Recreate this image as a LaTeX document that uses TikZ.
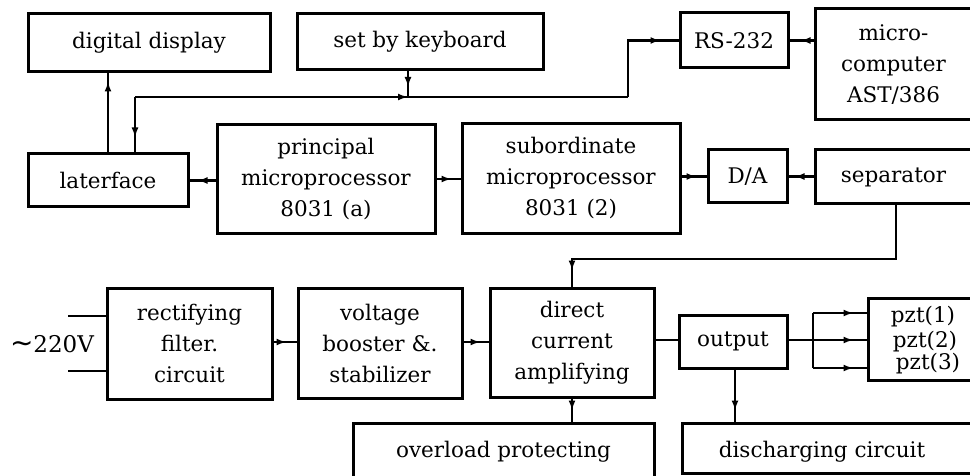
\documentclass[tikz,border=0pt]{standalone}
\usepackage{fontspec}
\setmainfont{DejaVu Serif}
\newfontfamily\symfont{DejaVu Sans}
\usetikzlibrary{arrows.meta,decorations.markings}

\tikzset{
  blk/.style={draw, line width=3pt, inner sep=0pt, align=center,
    font=\fontsize{21.5}{31}\selectfont},
  conn/.style={line width=2.6pt},
  % arrow tip placed #1 before the end of a connector
  tipback/.style={postaction={decorate, decoration={markings,
    mark=at position -#1 with {\arrow{Latex[length=10pt,width=7pt]}}}}},
  lbl/.style={inner sep=0pt, font=\fontsize{21.5}{24}\selectfont},
}

\begin{document}
\begin{tikzpicture}[x=1pt, y=-1pt]
\useasboundingbox (0,0) rectangle (970,476);
\clip (0,0) rectangle (970,476);

% top row
\node[blk, minimum width=242, minimum height=58] (disp) at (149,43) {digital display};
\node[blk, minimum width=246, minimum height=56] (kbd) at (420,42) {set by keyboard};
\node[blk, minimum width=108, minimum height=55] (rs) at (734,40.5) {RS-232};
\node[blk, minimum width=157, minimum height=111] (mc) at (893.5,64.5) {micro-\\computer\\AST/386};

% processor row
\node[blk, minimum width=160, minimum height=53] (lat) at (108,180.5) {laterface};
\node[blk, minimum width=218, minimum height=108] (pri) at (326,179) {principal\\microprocessor\\8031 (a)};
\node[blk, minimum width=218, minimum height=109] (sub) at (571,178.5) {subordinate\\microprocessor\\8031 (2)};
\node[blk, minimum width=79, minimum height=53] (da) at (747.5,176.5) {D/A};
\node[blk, minimum width=157, minimum height=54] (sep) at (893.5,177) {separator};

% power row
\node[lbl, font=\fontsize{23}{26}\selectfont] (ac) at (52,344) {{\symfont\fontsize{28}{26}\selectfont∼}220V};
\node[blk, minimum width=165, minimum height=111] (rect) at (189.5,343.5) {rectifying\\filter.\\circuit};
\node[blk, minimum width=164, minimum height=110] (volt) at (380,343) {voltage\\booster \&.\\stabilizer};
\node[blk, minimum width=164, minimum height=109] (dca) at (572,342.5) {direct\\current\\amplifying};
\node[blk, minimum width=108, minimum height=53] (out) at (733,341.5) {output};
\node[blk, minimum width=107, minimum height=82] (pzt) at (921.5,339) {};
\node[lbl] (pzt1) at (923,317) {pzt(1)};
\node[lbl] (pzt2) at (925,342) {pzt(2)};
\node[lbl] (pzt3) at (928,364) {pzt(3)};

% bottom row
\node[blk, minimum width=301, minimum height=57] (ovl) at (503.5,451.5) {overload protecting};
\node[blk, minimum width=290, minimum height=50] (dis) at (827,448) {};
\node[lbl] (distxt) at (822,452) {discharging circuit};

% bus between keyboard, interface and RS-232
\coordinate (busL) at (135,97);
\coordinate (busK) at (408,97);
\coordinate (busR) at (628,97);
\coordinate (busM) at (500,97);

\draw[conn, tipback=8pt] (lat.north) -- (lat.north |- disp.south);
\draw[conn, tipback=10pt] (kbd.south -| busK) -- (busK);
\draw[conn] (busK) -- (busL);
\draw[conn, tipback=15pt] (busL) -- (busL |- lat.north);
\draw[conn, tipback=0pt] (busK) -- (busM);
\draw[conn] (busM) -- (busR);
\draw[conn, tipback=18pt] (busR) -- (busR |- rs.west) -- (rs.west);
\draw[conn, tipback=11pt] (mc.west |- rs.east) -- (rs.east);

% processor row links
\draw[conn, tipback=8pt] (pri.west |- lat.east) -- (lat.east);
\draw[conn, tipback=9pt] (pri.east) -- (sub.west |- pri.east);
\draw[conn, tipback=10pt] (sub.east |- da.west) -- (da.west);
\draw[conn, tipback=6pt] (sep.west |- da.east) -- (da.east);

% separator to amplifier
\coordinate (sepd) at (896,259);
\draw[conn, tipback=16pt] (sep.south -| sepd) -- (sepd) -| (dca.north);

% mains input
\coordinate (in1) at (68,316);
\coordinate (in2) at (68,371);
\draw[conn] (in1) -- (in1 -| rect.west);
\draw[conn] (in2) -- (in2 -| rect.west);

% power chain
\draw[conn, tipback=10pt] (rect.east |- 0,342) -- (volt.west |- 0,342);
\draw[conn, tipback=8pt] (volt.east |- 0,342) -- (dca.west |- 0,342);
\draw[conn] (dca.east |- 0,340) -- (out.west |- 0,340);

% output fan-out to the piezo stacks
\coordinate (fan) at (813,340);
\draw[conn] (out.east |- fan) -- (fan);
\draw[conn] (fan |- 0,313) -- (fan |- 0,368);
\draw[conn, tipback=13pt] (fan |- 0,313) -- (pzt.west |- 0,313);
\draw[conn, tipback=13pt] (fan) -- (pzt.west |- fan);
\draw[conn, tipback=13pt] (fan |- 0,368) -- (pzt.west |- 0,368);

% links to the bottom row
\draw[conn, tipback=11pt] (dca.south) -- (dca.south |- ovl.north);
\draw[conn, tipback=11pt] (out.south -| 735,0) -- (dis.north -| 735,0);
\end{tikzpicture}
\end{document}
